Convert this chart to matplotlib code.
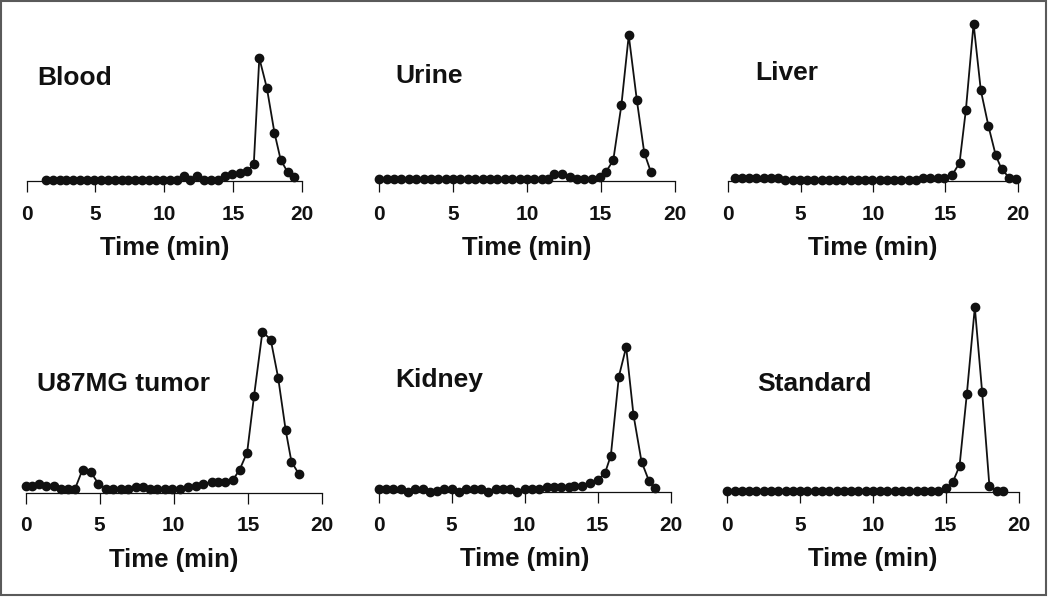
import matplotlib
matplotlib.use("Agg")
import matplotlib.pyplot as plt
from matplotlib.patches import Rectangle

plt.rcParams['font.family'] = ['Liberation Sans', 'DejaVu Sans']
plt.rcParams['font.weight'] = 'bold'

# retention time (min) and radioactivity (arbitrary units) for each sample
blood_t = [1.4, 1.9, 2.4, 2.9, 3.4, 3.9, 4.4, 4.9, 5.4, 5.9, 6.4, 6.9, 7.4,
           7.9, 8.4, 8.9, 9.4, 9.9, 10.4, 10.9, 11.4, 11.9, 12.4, 12.9, 13.4,
           13.9, 14.4, 14.95, 15.5, 16.0, 16.5, 16.9, 17.45, 18.0, 18.45,
           18.95, 19.45]
blood_v = [0.8, 0.8, 0.8, 0.8, 0.8, 0.8, 0.8, 0.8, 0.8, 0.8, 0.8, 0.8, 0.8,
           0.8, 0.8, 0.8, 0.8, 0.8, 0.8, 1.2, 4.7, 0.7, 4.7, 0.7, 0.7,
           1.3, 4.7, 7.0, 8.0, 9.7, 16.7, 123.0, 93.0, 48.3, 21.3,
           9.0, 4.0]

urine_t = [0.0, 0.5, 1.0, 1.5, 2.0, 2.5, 3.0, 3.5, 4.0, 4.5, 5.0, 5.5, 6.0,
           6.5, 7.0, 7.5, 8.0, 8.5, 9.0, 9.5, 10.0, 10.5, 11.0, 11.4, 11.85,
           12.35, 12.9, 13.4, 13.9, 14.4, 14.95, 15.35, 15.85, 16.4, 16.9,
           17.45, 17.95, 18.4]
urine_v = [1.7, 1.7, 1.7, 1.7, 1.7, 1.7, 1.7, 1.7, 1.7, 1.7, 1.7, 1.7, 1.7,
           1.7, 1.7, 1.7, 1.7, 1.7, 1.7, 1.7, 1.7, 1.7, 1.7, 1.7, 7.3,
           7.3, 4.0, 1.7, 1.7, 1.7, 4.0, 9.0, 20.7, 75.7, 145.7,
           80.7, 28.3, 9.0]

liver_t = [0.45, 0.95, 1.45, 1.95, 2.45, 2.95, 3.45, 3.95, 4.45, 4.95, 5.45,
           5.95, 6.45, 6.95, 7.45, 7.95, 8.45, 8.95, 9.45, 9.95, 10.45, 10.95,
           11.45, 11.95, 12.45, 12.95, 13.45, 13.95, 14.45, 14.9, 15.45,
           15.97, 16.41, 16.94, 17.44, 17.97, 18.47, 18.88, 19.4, 19.9]
liver_v = [3.4, 3.4, 3.4, 3.4, 3.4, 3.4, 3.4, 1.3, 1.3, 1.3, 1.3,
           1.3, 1.3, 1.3, 1.3, 1.3, 1.3, 1.3, 1.3, 1.3, 1.3, 1.3,
           1.3, 1.3, 1.3, 1.3, 3.4, 3.4, 3.4, 3.4, 5.7,
           18.0, 71.3, 157.3, 90.7, 54.7, 25.7, 11.7, 3.4, 1.7]

tumor_t = [0.0, 0.45, 0.9, 1.4, 1.9, 2.4, 2.85, 3.35, 3.85, 4.4, 4.9, 5.4,
           5.92, 6.44, 6.93, 7.42, 7.9, 8.39, 8.9, 9.4, 9.9, 10.41, 10.93,
           11.47, 11.98, 12.55, 13.0, 13.44, 14.0, 14.45, 14.95, 15.42,
           15.98, 16.54, 17.04, 17.55, 17.94, 18.45]
tumor_v = [6.7, 6.7, 9.0, 6.3, 6.3, 4.0, 4.0, 4.0, 23.0, 20.7, 9.0, 4.0,
           4.0, 4.0, 4.0, 6.0, 6.0, 4.0, 4.0, 4.0, 4.0, 4.0, 6.0,
           6.5, 8.5, 10.5, 10.5, 10.5, 12.7, 23.0, 40.0, 97.0,
           160.7, 153.0, 115.0, 62.3, 30.7, 18.3]

kidney_t = [0.0, 0.5, 1.0, 1.5, 2.0, 2.5, 3.0, 3.5, 4.0, 4.5, 5.0, 5.5, 6.0,
            6.5, 7.0, 7.5, 8.0, 8.5, 9.0, 9.5, 10.0, 10.5, 11.0, 11.5, 12.0,
            12.5, 13.0, 13.4, 13.9, 14.5, 15.0, 15.5, 15.9, 16.45, 16.95,
            17.45, 18.0, 18.5, 18.9]
kidney_v = [3.5, 3.5, 3.5, 3.5, 0.8, 3.5, 3.5, 0.8, 1.8, 3.5, 3.5, 0.5, 3.5,
            3.5, 3.5, 0.5, 3.5, 3.5, 3.5, 0.5, 3.5, 3.5, 3.5, 5.2, 5.2,
            5.2, 5.5, 6.8, 6.8, 9.2, 12.5, 19.2, 36.8, 115.8, 145.2,
            77.5, 30.8, 11.8, 4.2]

std_t = [0.0, 0.5, 1.0, 1.5, 2.0, 2.5, 3.0, 3.5, 4.0, 4.5, 5.0, 5.5, 6.0,
         6.5, 7.0, 7.5, 8.0, 8.5, 9.0, 9.5, 10.0, 10.5, 11.0, 11.5, 12.0,
         12.5, 13.0, 13.5, 14.0, 14.5, 15.05, 15.5, 15.95, 16.45, 17.0,
         17.5, 18.0, 18.5, 18.95]
std_v = [1.3, 1.3, 1.3, 1.3, 1.3, 1.3, 1.3, 1.3, 1.3, 1.3, 1.3, 1.3, 1.3,
         1.3, 1.3, 1.3, 1.3, 1.3, 1.3, 1.3, 1.3, 1.3, 1.3, 1.3, 1.3,
         1.3, 1.3, 1.3, 1.3, 1.3, 4.0, 10.7, 26.3, 98.0, 185.0,
         100.7, 6.7, 1.3, 1.3]

names = ['Blood', 'Urine', 'Liver', 'U87MG tumor', 'Kidney', 'Standard']
xticks = [0, 5, 10, 15, 20]

W, H = 1050, 598
fig = plt.figure(figsize=(W / 100, H / 100), dpi=100)

# panel placement in pixels: x of t=0, x of t=20, axis line y, top y
boxes = [(26.5, 302.0, 181.0, 15.0),
         (379.3, 674.5, 181.0, 15.0),
         (728.2, 1017.9, 181.0, 15.0),
         (25.5, 322.0, 492.5, 300.0),
         (378.7, 670.7, 492.3, 300.0),
         (727.3, 1018.5, 492.3, 300.0)]
# title anchor (left, baseline) in pixels
title_pos = [(37, 85), (395, 83), (755, 80), (37, 391), (395, 387), (757, 391)]

series = [(blood_t, blood_v), (urine_t, urine_v), (liver_t, liver_v),
          (tumor_t, tumor_v), (kidney_t, kidney_v), (std_t, std_v)]

for i in range(6):
    x0, x1, yb, yt = boxes[i]
    ax = fig.add_axes([x0 / W, 1 - yb / H, (x1 - x0) / W, (yb - yt) / H])
    t, v = series[i]
    ax.plot(t, v, '-o', color='#111111', lw=1.3, ms=6, clip_on=False)
    ax.set_xlim(0, 20)
    ax.set_ylim(0, yb - yt)
    for s in ['top', 'right', 'left']:
        ax.spines[s].set_visible(False)
    ax.spines['bottom'].set_linewidth(0.9)
    ax.spines['bottom'].set_color('#111111')
    ax.set_yticks([])
    ax.set_xticks(xticks)
    ax.tick_params(axis='x', length=8, width=0.9, pad=9, labelsize=15,
                   color='#111111', labelcolor='#111111')
    ax.set_xlabel('Time (min)', fontsize=18.5, fontweight='bold',
                  labelpad=9, color='#111111')
    ax.patch.set_alpha(0)

    tx, ty = title_pos[i]
    fig.text(tx / W, 1 - ty / H, names[i], fontsize=19, fontweight='bold',
             ha='left', va='baseline', color='#111111')

# grey frame around the figure
fig.patches.append(Rectangle((1 / W, 3 / H), 1045 / W, 594 / H,
                             transform=fig.transFigure, fill=False,
                             edgecolor='#5a5a5a', linewidth=1.5))

plt.savefig('out.png', dpi=100)
